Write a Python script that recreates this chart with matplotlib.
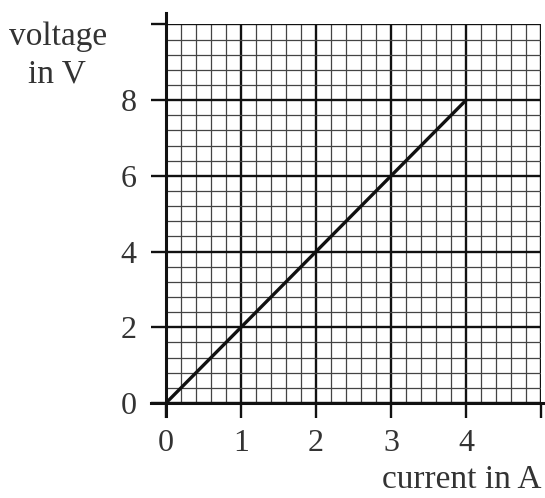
import numpy as np
import matplotlib.pyplot as plt

# datos de la recta
current = [0, 4]
voltage = [0, 8]

x_ticks = [0, 1, 2, 3, 4, 5]
x_labels = ['0', '1', '2', '3', '4', '']
y_ticks = [0, 2, 4, 6, 8, 10]
y_labels = ['0', '2', '4', '6', '8', '']

plt.rcParams['font.family'] = ['Liberation Serif', 'DejaVu Serif']

fig = plt.figure(figsize=(5.45, 4.98), dpi=100)
ax = fig.add_axes([166/545, 95/498, 375/545, 378.5/498])
ax.set_xlim(0, 5)
ax.set_ylim(0, 10)

# papel milimetrado
ax.set_xticks(np.arange(0, 5.01, 0.2), minor=True)
ax.set_yticks(np.arange(0, 10.01, 0.4), minor=True)
ax.grid(which='minor', color='#444444', linewidth=0.9)
ax.grid(which='major', color='#111111', linewidth=1.7)
ax.set_axisbelow(True)

ax.set_xticks(x_ticks)
ax.set_xticklabels(x_labels)
ax.set_yticks(y_ticks)
ax.set_yticklabels(y_labels)
ax.tick_params(which='major', direction='out', length=11, width=1.7,
               labelsize=23, color='#111111', labelcolor='#333333')
ax.tick_params(axis='x', pad=8)
ax.tick_params(axis='y', pad=10)
ax.tick_params(which='minor', length=0)

for s in ['left', 'bottom', 'top', 'right']:
    ax.spines[s].set_visible(False)

# ejes que sobresalen
ax.plot([0, 0], [-0.35, 10.3], color='#111111', lw=2.2, clip_on=False)
ax.plot([-0.2, 5.05], [0, 0], color='#111111', lw=2.2, clip_on=False)

ax.plot(current, voltage, color='#111111', lw=2.4, solid_capstyle='round')

fig.text(9/545, 1 - 45/498, 'voltage', fontsize=24, color='#333333',
         ha='left', va='baseline')
fig.text(57/545, 1 - 82/498, 'in V', fontsize=24, color='#333333',
         ha='center', va='baseline')
fig.text(541/545, 1 - 488/498, 'current in A', fontsize=24, color='#333333',
         ha='right', va='baseline')

fig.savefig('out.png', dpi=100)
